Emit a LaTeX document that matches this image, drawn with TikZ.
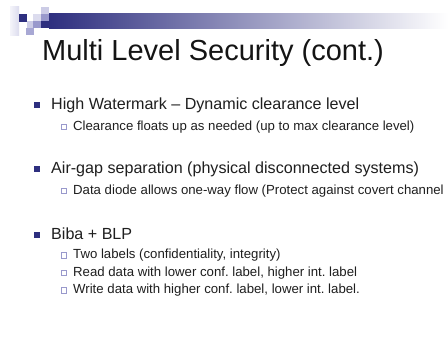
\documentclass[tikz,border=0pt]{standalone}
\usepackage{fontspec}
\setmainfont{Liberation Sans}
\frenchspacing
\begin{document}
\begin{tikzpicture}[x=1pt,y=-1pt,
  txt/.style={anchor=base west,inner sep=0pt,text=black!88},
  ttl/.style={txt,font=\fontsize{29}{31}\selectfont,text=black!92},
  lvl1/.style={txt,font=\fontsize{16.1}{18}\selectfont},
  lvl2/.style={txt,font=\fontsize{13.2}{15}\selectfont},
  bul1/.style={fill=navy,draw=none},
  bul2/.style={draw=lav,line width=0.6pt,fill=white}]
\definecolor{navy}{HTML}{2E2F7F}
\definecolor{lav}{HTML}{9999CC}
\definecolor{lavlt}{HTML}{CCCCE6}
\definecolor{lavpale}{HTML}{DCDCEE}
\useasboundingbox (0,0) rectangle (448,360);
\fill[white] (0,0) rectangle (448,360);
% corner pixel logo
\shade[left color=white!70!lavpale,right color=lavpale] (10,6) rectangle (19,35);
\fill[navy] (19,14) rectangle (27,22);
\fill[lavlt] (27,21) rectangle (34,28);
\fill[lav!85] (26,28) rectangle (34,35);
\fill[lavpale] (33,14) rectangle (41,21);
\fill[lav] (33,21) rectangle (41,28);
\fill[lavlt] (41,7) rectangle (49,14);
\fill[lav] (41,14) rectangle (49,21);
\fill[navy] (41,21) rectangle (49,28);
% header bar
\shade[left color=navy,right color=white] (49,13) rectangle (448,28);
% title
\node[ttl] (title) at (42,60) {Multi Level Security (cont.)};
% first level bullets
\fill[bul1] (34,102) rectangle (40,108);
\node[lvl1] (b1) at (51,109) {High Watermark – Dynamic clearance level};
\fill[bul1] (34,166) rectangle (40,172);
\node[lvl1] (b2) at (51,173.3) {Air-gap separation (physical disconnected systems)};
\fill[bul1] (34,232) rectangle (40,238);
\node[lvl1] (b3) at (51,239) {Biba + BLP};
% second level bullets
\draw[bul2] (61.3,124.3) rectangle (66.7,129.7);
\node[lvl2] (s1) at (73,130) {Clearance floats up as needed (up to max clearance level)};
\draw[bul2] (61.3,188.3) rectangle (66.7,193.7);
\node[lvl2] (s2) at (73,194) {Data diode allows one-way flow (Protect against covert channel};
\draw[bul2] (61.3,252.6) rectangle (66.7,258);
\node[lvl2] (s3) at (73,258.3) {Two labels (confidentiality, integrity)};
\draw[bul2] (61.3,270.3) rectangle (66.7,275.7);
\node[lvl2] (s4) at (73,276) {Read data with lower conf. label, higher int. label};
\draw[bul2] (61.3,287.6) rectangle (66.7,293);
\node[lvl2] (s5) at (73,293.3) {Write data with higher conf. label, lower int. label.};
\end{tikzpicture}
\end{document}
